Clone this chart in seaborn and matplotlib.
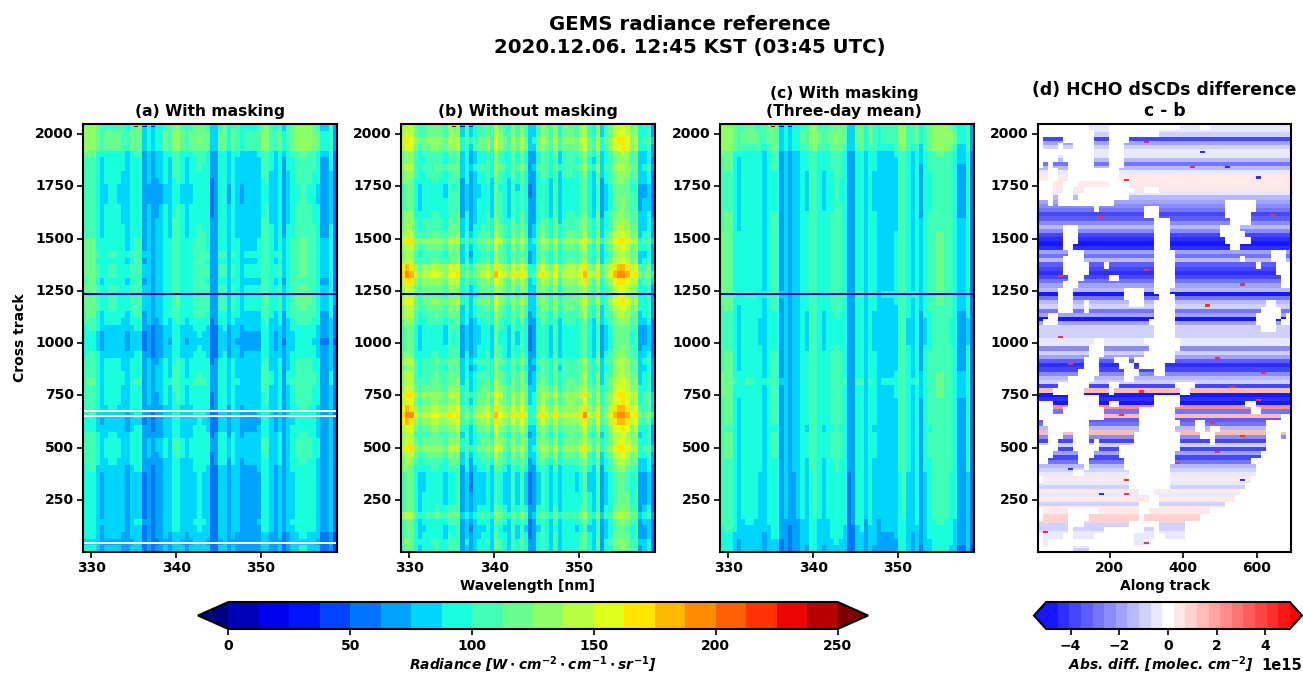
import numpy as np
import matplotlib
matplotlib.use("Agg")
import matplotlib.pyplot as plt
from matplotlib.cm import ScalarMappable
from matplotlib.colors import BoundaryNorm, ListedColormap
import seaborn as sns

# Radiance: spectrum per 0.5 nm bin (329-359 nm)
spectrum_masked = [1.15, 1.18, 1.18, 1.02, .90, .98, 1.0, 1.0, .98, .95, .88, 1.0, 1.05, 1.05, .75,
                   .85, .72, .82, .85, .98, .92, 1.1, 1.12, .98, .92, .98, 1.05, 1.08, 1.06, 1.0,
                   .68, .72, 1.0, 1.02, .85, 1.0, .92, .85, .88, .88, .88, .9, 1.1, 1.12, .95,
                   .88, 1.0, .78, .95, 1.05, 1.12, 1.15, 1.15, 1.12, 1.08, .98, .78, .78, .95, .62]
spectrum_nomask = [1.25, 1.42, 1.38, 1.08, .98, 1.06, 1.08, 1.12, 1.14, 1.08, 1.02, 1.2, 1.18, 1.24, .82,
                   .98, .76, .92, 1.02, 1.05, 1.12, .96, 1.35, 1.18, 1.05, .95, 1.22, 1.04, 1.26, 1.05,
                   .72, .78, 1.05, 1.22, 1.08, .96, 1.2, .92, 1.08, 1.1, 1.1, 1.06, 1.2, 1.38, 1.06,
                   .94, 1.26, .82, 1.0, 1.12, 1.34, 1.42, 1.46, 1.36, 1.18, 1.24, .84, .88, 1.0, .66]

# Brightness per 32 cross-track bins, from track 2048 down to 1
track_a = [112, 115, 116, 115, 98, 95, 94, 92, 90, 88, 88, 88, 90, 90, 92, 94,
           95, 98, 98, 100, 98, 100, 100, 96, 100, 102, 102, 100, 96, 90, 86, 82,
           80, 82, 86, 90, 92, 94, 96, 92, 90, 90, 88, 85, 82, 84, 88, 92,
           92, 90, 88, 85, 82, 82, 82, 82, 82, 82, 82, 84, 82, 78, 74, 78]
track_b = [105, 106, 116, 112, 95, 93, 100, 93, 90, 84, 85, 87, 87, 91, 95, 98,
           104, 118, 105, 98, 104, 125, 134, 118, 108, 108, 112, 105, 100, 93, 85, 84,
           84, 86, 90, 100, 95, 100, 104, 108, 118, 114, 124, 136, 124, 112, 104, 108,
           118, 105, 98, 90, 82, 82, 82, 83, 83, 88, 100, 86, 82, 84, 90, 88]
track_c = [114, 116, 116, 112, 98, 97, 96, 95, 94, 93, 93, 94, 95, 96, 97, 97,
           98, 98, 98, 98, 98, 98, 98, 98, 98, 100, 98, 97, 94, 92, 92, 92,
           92, 94, 96, 96, 96, 98, 100, 98, 98, 96, 96, 96, 96, 94, 96, 96,
           96, 96, 94, 93, 90, 90, 90, 90, 90, 90, 90, 88, 86, 84, 82, 80]
masked_tracks_a = [43, 650, 680]
low_track = 1237
low_track_value = 5
# (track, wavelength, radiance) of the odd pixels along the top edge
top_specks = [(2040, 335.0, 255), (2040, 336.2, 20), (2040, 337.2, 20)]

# HCHO difference (1e15) per 20 cross-track bins, from the top down
d_stripes = [-.4, -.3, -.8, -3.8, -2, -1, -.7, -.5, -1.2, -2.8, -1.4, -.3, .4, .6, .7, .3, -.6,
             -1.5, -2, -2.6, -3, -3.6, -3.2, -2.5, -1.5, -2.2, -4, -4.4, -4.8, -4.2, -1.8, -3, -1.6,
             -3.2, -4, -4.2, -3.6, -3, -2, -1.6, -4.8, -3, -1.4, -1, -3, -1.8, -4.8, -2, -1, -.8,
             -1, -.5, -.6, -2.6, -1, -2, -3.4, -4.2, -3.6, -2.6, -1.4, -.8, -3.6, 1.5, -5, -4.2, -4.6,
             2.2, -3, 1.6, -3.4, -3, -1.6, 1.6, -2.2, -3.6, -1, -3.6, -2, -4, -3, -1.6, -1, -.5,
             .3, -.5, -.9, .3, -.7, .5, -.8, .3, .6, 1, .9, -.8, -1, -.7, -.5, -.4, -.4, -.8]

# Column runs (0-49) with valid pixels for each of 68 rows, from the top down
d_runs = [
    [(10, 13), (28, 31), (34, 49)], [(11, 13), (24, 49)], [(1, 4), (11, 13), (18, 49)],
    [(1, 3), (5, 6), (11, 13), (17, 49)], [(11, 13), (17, 49)], [(4, 4), (11, 13), (17, 49)],
    [(1, 1), (3, 5), (11, 13), (17, 49)], [(0, 1), (4, 5), (16, 49)], [(0, 1), (4, 5), (16, 49)],
    [(3, 4), (8, 13), (18, 49)], [(3, 4), (7, 8), (19, 20), (24, 49)], [(3, 3), (7, 7), (18, 49)],
    [(0, 1), (3, 3), (15, 36), (43, 49)], [(0, 10), (12, 20), (24, 36), (43, 49)],
    [(0, 20), (24, 36), (42, 49)], [(0, 22), (26, 37), (42, 49)], [(0, 4), (8, 22), (26, 35), (40, 49)],
    [(0, 4), (8, 22), (26, 35), (41, 49)], [(0, 4), (8, 22), (26, 36), (42, 49)],
    [(0, 4), (7, 22), (26, 37), (40, 49)], [(0, 5), (9, 22), (27, 45), (49, 49)],
    [(0, 4), (9, 22), (27, 39), (41, 45), (49, 49)], [(0, 4), (10, 12), (14, 22), (27, 42), (44, 46)],
    [(0, 4), (10, 22), (27, 46)], [(0, 5), (9, 13), (16, 22), (27, 47)], [(0, 4), (8, 22), (27, 47)],
    [(0, 3), (7, 16), (21, 22), (26, 49)], [(0, 3), (7, 16), (21, 23), (27, 49)],
    [(0, 3), (7, 8), (10, 17), (21, 22), (27, 44), (47, 49)], [(0, 3), (7, 8), (10, 22), (27, 43), (48, 49)],
    [(0, 1), (4, 22), (27, 42), (48, 48)], [(0, 0), (4, 21), (27, 42), (47, 47)],
    [(0, 22), (27, 43), (47, 49)], [(0, 22), (27, 49)],
    [(0, 10), (13, 20), (28, 49)], [(0, 9), (13, 21), (28, 49)], [(0, 9), (13, 20), (27, 49)],
    [(0, 8), (12, 14), (18, 18), (27, 49)], [(0, 8), (12, 15), (19, 19), (25, 49)],
    [(0, 7), (12, 16), (20, 22), (25, 49)], [(0, 5), (11, 16), (19, 49)],
    [(0, 3), (10, 13), (16, 26), (31, 49)], [(0, 2), (9, 13), (15, 27), (30, 49)],
    [(0, 2), (3, 5), (12, 22), (28, 49)], [(3, 5), (12, 13), (16, 22), (28, 40), (43, 49)],
    [(3, 4), (13, 19), (27, 41), (44, 49)], [(13, 19), (27, 37), (38, 47)],
    [(0, 0), (10, 19), (28, 30), (33, 35), (36, 44)], [(0, 1), (10, 19), (27, 30), (33, 33), (36, 44)],
    [(0, 1), (5, 6), (10, 18), (28, 31), (35, 44), (48, 48)], [(0, 1), (4, 6), (10, 10), (12, 18), (28, 33), (35, 44)],
    [(4, 6), (12, 15), (28, 44)], [(3, 7), (11, 15), (27, 43)], [(2, 7), (10, 16), (27, 41)],
    [(0, 8), (10, 16), (26, 42)], [(0, 6), (9, 17), (26, 42)], [(1, 17), (26, 41)], [(0, 17), (26, 40)],
    [(0, 19), (23, 39)], [(0, 21), (24, 38)], [(0, 19), (24, 36)], [(1, 5), (12, 19), (22, 33)],
    [(1, 5), (10, 19), (21, 31)], [(0, 5), (9, 17), (24, 28)], [(0, 5), (7, 12), (21, 22), (24, 28)],
    [(1, 4), (7, 10), (19, 22), (25, 28)], [(1, 1), (19, 21)], [(7, 9)],
]
# (cross track, along track) of isolated strong pixels
d_red_specks = [(1960, 300), (1840, 420), (1780, 250), (1600, 180), (1320, 60), (1280, 560), (1150, 140),
                (1030, 60), (980, 320), (900, 90), (860, 620), (790, 420), (790, 540), (770, 280),
                (730, 600), (700, 350), (620, 480), (560, 560), (480, 500), (430, 380), (350, 250),
                (280, 250), (100, 20), (50, 300), (1350, 300), (1180, 470), (1400, 640), (1610, 640),
                (930, 500), (660, 230)]
d_blue_specks = [(1840, 520), (1910, 450), (350, 560), (400, 100), (280, 170), (1790, 600)]

x_ticks_nm = [330, 340, 350]
y_ticks = [250, 500, 750, 1000, 1250, 1500, 1750, 2000]
x_ticks_along = [200, 400, 600]
rad_levels = np.linspace(0, 250, 21)
rad_ticks = [0, 50, 100, 150, 200, 250]
diff_levels = np.linspace(-5e15, 5e15, 22)
diff_ticks = [-4e15, -2e15, 0, 2e15, 4e15]

sns.set_theme(style="ticks", rc={
    "font.family": "DejaVu Sans", "font.weight": "bold", "axes.labelweight": "bold",
    "axes.titleweight": "bold", "text.color": "black", "axes.labelcolor": "black",
    "xtick.color": "black", "ytick.color": "black", "axes.edgecolor": "black",
    "xtick.labelsize": 10, "ytick.labelsize": 10, "axes.titlesize": 11.2, "axes.labelsize": 10,
})

W, H = 1303, 675
fig = plt.figure(figsize=(W / 100, H / 100), dpi=100)


def box(left, top, right, bottom):
    return [left / W, 1 - bottom / H, (right - left) / W, (bottom - top) / H]


# colour maps
jet = plt.get_cmap("jet", 22)(np.arange(22))
rad_cmap = ListedColormap(jet[1:-1])
rad_cmap.set_under(jet[0])
rad_cmap.set_over(jet[-1])
rad_cmap.set_bad("white")
rad_norm = BoundaryNorm(rad_levels, 20)

bwr = plt.get_cmap("bwr", 23)(np.arange(23))
diff_cmap = ListedColormap(bwr[1:-1])
diff_cmap.set_under(bwr[0])
diff_cmap.set_over(bwr[-1])
diff_cmap.set_bad("white")
diff_norm = BoundaryNorm(diff_levels, 21)


def radiance_grid(track, spectrum, masked=()):
    rows = np.arange(256) * len(track) // 256
    grid = np.outer(np.array(track, float)[rows], spectrum)
    grid[int((2048 - low_track) / 8)] = low_track_value
    for t in masked:
        grid[int((2048 - t) / 8)] = np.nan
    for t, wl, v in top_specks:
        grid[int((2048 - t) / 8), int((wl - 329) * 2)] = v
    return grid


def diff_grid():
    grid = np.full((204, 50), np.nan)
    rows = np.arange(204) * len(d_stripes) // 204
    for r, runs in enumerate(d_runs):
        for a, b in runs:
            grid[r * 3:r * 3 + 3, a:b + 1] = 0
    grid = grid + np.array(d_stripes)[rows][:, None] * 1e15
    for specks, v in ((d_red_specks, 4.5e15), (d_blue_specks, -4.5e15)):
        for t, a in specks:
            r = int((2048 - t) / 2048 * 204)
            c = int((a - 4) / 690 * 50)
            if not np.isnan(grid[r, c]):
                grid[r, c] = v
    return grid


def finish(ax, title, **kw):
    for s in ax.spines.values():
        s.set_visible(True)
        s.set_linewidth(1.5)
    ax.set_title(title, pad=6, **kw)
    ax.tick_params(length=4, width=1.2, labelrotation=0, pad=2.5)


panels = [
    (83, 337, track_a, spectrum_masked, masked_tracks_a, "(a) With masking", 0.5),
    (401, 655, track_b, spectrum_nomask, (), "(b) Without masking", 0.5),
    (720, 974, track_c, spectrum_masked, (), "(c) With masking\n(Three-day mean)", 0.488),
]
for left, right, track, spec, masked, title, title_x in panels:
    ax = fig.add_axes(box(left, 124, right, 552))
    grid = radiance_grid(track, spec, masked)
    sns.heatmap(grid, ax=ax, cmap=rad_cmap, norm=rad_norm, cbar=False, rasterized=True)
    ax.set_xticks([(v - 329) / 30 * grid.shape[1] for v in x_ticks_nm], x_ticks_nm)
    ax.set_yticks([(2048 - v) / 2048 * grid.shape[0] for v in y_ticks], y_ticks)
    finish(ax, title, x=title_x)
    if left == 83:
        ax.set_ylabel("Cross track", labelpad=6)
    if left == 401:
        ax.set_xlabel("Wavelength [nm]", labelpad=3)

ax = fig.add_axes(box(1038, 124, 1291, 552))
grid = diff_grid()
sns.heatmap(grid, ax=ax, cmap=diff_cmap, norm=diff_norm, cbar=False, rasterized=True)
ax.set_xticks([(v - 4) / 690 * grid.shape[1] for v in x_ticks_along], x_ticks_along)
ax.set_yticks([(2048 - v) / 2048 * grid.shape[0] for v in y_ticks], y_ticks)
finish(ax, "(d) HCHO dSCDs difference\nc - b", fontsize=12.4)
ax.set_xlabel("Along track", labelpad=3)

# colour bars, the extend triangles sit inside the given axes box
cax = fig.add_axes(box(198, 602, 868, 629))
cb = fig.colorbar(ScalarMappable(norm=rad_norm, cmap=rad_cmap), cax=cax, orientation="horizontal",
                  extend="both", ticks=rad_ticks, spacing="proportional")
cb.set_label(r"Radiance [$W \cdot cm^{-2} \cdot cm^{-1} \cdot sr^{-1}$]", style="italic", labelpad=1)
cb.outline.set_linewidth(1.5)
cb.ax.minorticks_off()
cb.ax.tick_params(length=4, width=1.2)

cax = fig.add_axes(box(1034, 602, 1302, 629))
cb = fig.colorbar(ScalarMappable(norm=diff_norm, cmap=diff_cmap), cax=cax, orientation="horizontal",
                  extend="both", ticks=diff_ticks, spacing="proportional")
cb.set_label(r"Abs. diff. [molec. cm$^{-2}$]", style="italic", labelpad=1, x=0.47)
cb.outline.set_linewidth(1.5)
cb.ax.minorticks_off()
cb.ax.tick_params(length=4, width=1.2)
offset = cb.ax.xaxis.get_offset_text()
offset.set_fontweight("bold")
offset.set_fontsize(10.5)
offset.set_x(1.05)

fig.text(690 / W, 1 - 36 / H, "GEMS radiance reference\n2020.12.06. 12:45 KST (03:45 UTC)",
         ha="center", va="center", fontsize=14.2, fontweight="bold")

fig.savefig("out.png", dpi=100)
